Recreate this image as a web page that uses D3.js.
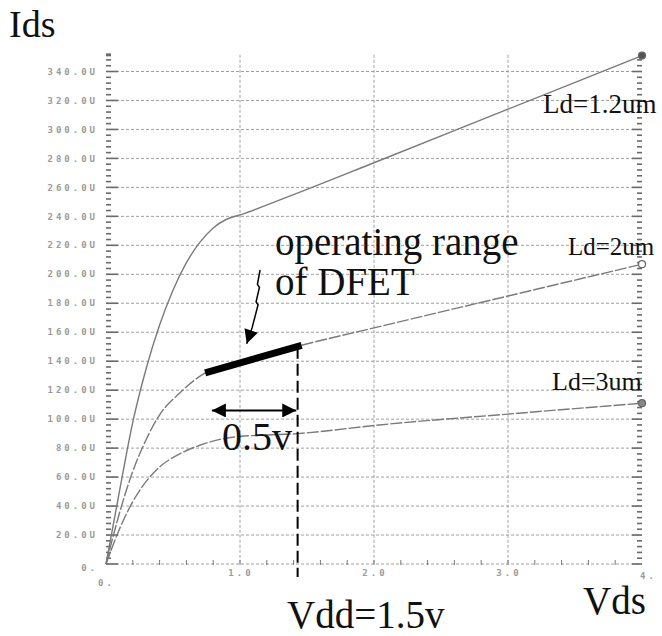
<!DOCTYPE html>
<html>
<head>
<meta charset="utf-8">
<script src="https://cdn.jsdelivr.net/npm/d3@7"></script>
<style>
  body { margin: 0; background: #fff; }
  .big { font-family: "Liberation Serif", "Times New Roman", serif; fill: #111; }
  .tick-label { font-family: "DejaVu Sans Mono", monospace; font-weight: bold; font-size: 9px; fill: #9a9a9a; letter-spacing: 3px; }
</style>
</head>
<body>
<div id="main"></div>
<script>
// curves (Vds in V, Ids in uA)
const vdsLd12 = [0, 0.1, 0.2, 0.3, 0.4, 0.5, 0.6, 0.7, 0.8, 0.9, 1.0, 1.4, 2, 3, 4];
const idsLd12 = [0, 50, 98, 135, 165, 189, 208, 222, 232, 238, 241, 255, 277, 314, 351];

const vdsLd2 = [0, 0.1, 0.2, 0.3, 0.4, 0.55, 0.74, 1.0, 1.46, 2, 3, 4];
const idsLd2 = [0, 35, 64, 86, 103, 118, 132, 139, 151, 163, 185, 207];

const vdsLd3 = [0, 0.1, 0.2, 0.3, 0.4, 0.55, 0.7, 0.85, 1.0, 1.43, 2.04, 3, 4];
const idsLd3 = [0, 24, 43, 57, 67, 76, 82, 86, 88, 90, 96, 103.5, 111];

const curveNames = ['Ld=1.2um', 'Ld=2um', 'Ld=3um'];

// y ticks every 20, x major ticks
const yTickValues = d3.range(20, 341, 20);
const yTickLabels = yTickValues.map(v => v + '.0U');
const xTickValues = [1, 2, 3];
const xTickLabels = ['1.0', '2.0', '3.0'];

// annotation values (data units)
const opRange = [[0.74, 132], [1.46, 151]];
const vddLine = [1.43, 150, -9];
const halfVoltArrow = [[0.79, 106], [1.42, 106]];
const pointer = [[1.15, 203], [1.13, 193], [1.145, 191], [1.12, 181], [1.135, 179], [1.09, 163], [1.05, 152]];

class App {
  constructor() {
    this.width = 662;
    this.height = 636;
    this.x = d3.scaleLinear().domain([0, 4]).range([106, 642]);
    this.y = d3.scaleLinear().domain([0, 340]).range([564, 71.5]);
    this.svg = d3.select('#main').append('svg')
      .attr('width', this.width)
      .attr('height', this.height)
      .style('background', '#fff');
    this.render();
  }
  render() {
    var x = this.x, y = this.y, svg = this.svg;
    var yTop = y(351.5);

    // grid
    var grid = svg.append('g')
      .attr('stroke', '#a0a0a0')
      .attr('stroke-width', 1)
      .attr('stroke-dasharray', '3,2');
    grid.selectAll('.hg').data([0].concat(yTickValues)).enter().append('line')
      .attr('x1', x(0)).attr('x2', x(4))
      .attr('y1', d => y(d)).attr('y2', d => y(d));
    grid.selectAll('.vg').data(xTickValues).enter().append('line')
      .attr('x1', d => x(d)).attr('x2', d => x(d))
      .attr('y1', yTop).attr('y2', y(0));

    // left and right axis ticks
    var minor = d3.range(0, 352, 4);
    var ticks = svg.append('g').attr('stroke', '#6a6a6a').attr('stroke-width', 1.6);
    ticks.selectAll('.lt').data(minor).enter().append('line')
      .attr('x1', x(0)).attr('x2', d => x(0) + (d % 20 === 0 ? 12 : 5))
      .attr('y1', d => y(d)).attr('y2', d => y(d));
    ticks.selectAll('.rt').data(minor).enter().append('line')
      .attr('x1', x(4)).attr('x2', d => x(4) - (d % 20 === 0 ? 10 : 5))
      .attr('y1', d => y(d)).attr('y2', d => y(d));
    ticks.append('line')
      .attr('x1', x(0)).attr('x2', x(0) + 5)
      .attr('y1', yTop).attr('y2', yTop)
      .attr('stroke-width', 3);

    // bottom axis minor ticks every 0.2
    svg.append('g').attr('stroke', '#777').attr('stroke-width', 1)
      .selectAll('line').data(d3.range(0.2, 4, 0.2)).enter().append('line')
      .attr('x1', d => x(d)).attr('x2', d => x(d))
      .attr('y1', y(0) - 4).attr('y2', y(0) + 1);

    // tick labels
    svg.append('g').selectAll('text').data(yTickValues).enter().append('text')
      .attr('class', 'tick-label')
      .attr('x', 98).attr('y', d => y(d)).attr('dy', '0.35em')
      .attr('text-anchor', 'end')
      .text((d, i) => yTickLabels[i]);
    svg.append('text').attr('class', 'tick-label')
      .attr('x', 98).attr('y', y(0) + 4).attr('dy', '0.35em')
      .attr('text-anchor', 'end').text('0.');
    svg.append('g').selectAll('text').data(xTickValues).enter().append('text')
      .attr('class', 'tick-label')
      .attr('x', d => x(d) + 1).attr('y', y(0) + 9).attr('dy', '0.35em')
      .attr('text-anchor', 'middle')
      .text((d, i) => xTickLabels[i]);
    svg.append('text').attr('class', 'tick-label')
      .attr('x', x(0) - 8).attr('y', y(0) + 19).attr('dy', '0.35em').text('0.');
    svg.append('text').attr('class', 'tick-label')
      .attr('x', x(4) - 2).attr('y', y(0) + 12).attr('dy', '0.35em').text('4.');

    // curves
    var series = [
      { xs: vdsLd12, ys: idsLd12, dash: null, marker: '#555' },
      { xs: vdsLd2, ys: idsLd2, dash: '12,2', marker: '#fff' },
      { xs: vdsLd3, ys: idsLd3, dash: '12,2', marker: '#888' }
    ];
    var line = d3.line()
      .x(d => x(d[0]))
      .y(d => y(d[1]))
      .curve(d3.curveMonotoneX);
    series.forEach((s) => {
      var pts = s.xs.map((v, i) => [v, s.ys[i]]);
      svg.append('path')
        .datum(pts)
        .attr('fill', 'none')
        .attr('stroke', '#7a7a7a')
        .attr('stroke-width', 1.4)
        .attr('stroke-dasharray', s.dash)
        .attr('d', line);
      var last = pts[pts.length - 1];
      svg.append('circle')
        .attr('cx', x(last[0])).attr('cy', y(last[1]))
        .attr('r', 3.5)
        .attr('fill', s.marker)
        .attr('stroke', '#666').attr('stroke-width', 1.2);
    });

    // operating range (thick bar on Ld=2um)
    svg.append('line')
      .attr('x1', x(opRange[0][0])).attr('y1', y(opRange[0][1]))
      .attr('x2', x(opRange[1][0])).attr('y2', y(opRange[1][1]))
      .attr('stroke', '#000').attr('stroke-width', 7);

    // Vdd dashed line
    svg.append('line')
      .attr('x1', x(vddLine[0])).attr('x2', x(vddLine[0]))
      .attr('y1', y(vddLine[1])).attr('y2', y(vddLine[2]))
      .attr('stroke', '#000').attr('stroke-width', 2)
      .attr('stroke-dasharray', '12,5');

    // 0.5v double arrow
    var defs = svg.append('defs');
    defs.append('marker')
      .attr('id', 'ah').attr('viewBox', '0 0 10 10')
      .attr('refX', 10).attr('refY', 5)
      .attr('markerUnits', 'userSpaceOnUse')
      .attr('markerWidth', 24).attr('markerHeight', 14)
      .attr('orient', 'auto-start-reverse')
      .append('path').attr('d', 'M0,0L10,5L0,10Z').attr('fill', '#000');
    svg.append('line')
      .attr('x1', x(halfVoltArrow[0][0])).attr('y1', y(halfVoltArrow[0][1]))
      .attr('x2', x(halfVoltArrow[1][0])).attr('y2', y(halfVoltArrow[1][1]))
      .attr('stroke', '#000').attr('stroke-width', 2)
      .attr('marker-start', 'url(#ah)').attr('marker-end', 'url(#ah)');

    // pointer arrow to the operating range
    defs.append('marker')
      .attr('id', 'ph').attr('viewBox', '0 0 10 10')
      .attr('refX', 10).attr('refY', 5)
      .attr('markerUnits', 'userSpaceOnUse')
      .attr('markerWidth', 24).attr('markerHeight', 14)
      .attr('orient', 'auto')
      .append('path').attr('d', 'M0,0L10,5L0,10Z').attr('fill', '#000');
    svg.append('path')
      .datum(pointer)
      .attr('fill', 'none').attr('stroke', '#000').attr('stroke-width', 1.5)
      .attr('marker-end', 'url(#ph)')
      .attr('d', d3.line().x(d => x(d[0])).y(d => y(d[1])));

    // texts
    svg.append('text').attr('class', 'big').attr('x', 9).attr('y', 37)
      .style('font-size', '38px').text('Ids');
    svg.append('text').attr('class', 'big').attr('x', 583).attr('y', 614)
      .style('font-size', '39px').text('Vds');
    svg.append('text').attr('class', 'big').attr('x', 287).attr('y', 628)
      .style('font-size', '39px').text('Vdd=1.5v');
    svg.append('text').attr('class', 'big').attr('x', 222).attr('y', 450)
      .style('font-size', '40px').text('0.5v');
    svg.append('text').attr('class', 'big').attr('x', 275).attr('y', 255)
      .style('font-size', '39px').text('operating range');
    svg.append('text').attr('class', 'big').attr('x', 275).attr('y', 295)
      .style('font-size', '39px').text('of DFET');

    var labelPos = [[543, 113, 27], [568, 255, 25], [552, 390, 26]];
    svg.append('g').selectAll('text').data(curveNames).enter().append('text')
      .attr('class', 'big')
      .attr('x', (d, i) => labelPos[i][0]).attr('y', (d, i) => labelPos[i][1])
      .style('font-size', (d, i) => labelPos[i][2] + 'px')
      .text(d => d);
  }
}

var app = new App();
</script>
</body>
</html>
